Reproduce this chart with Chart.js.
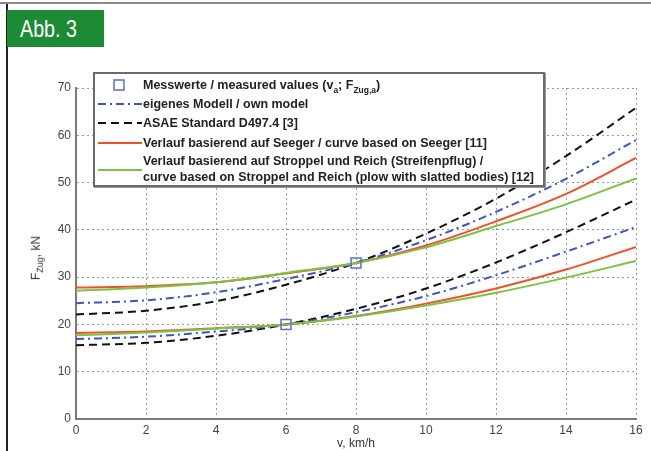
<!DOCTYPE html>
<html>
<head>
<meta charset="utf-8">
<script src="https://cdn.jsdelivr.net/npm/chart.js@4.4.1/dist/chart.umd.min.js"></script>
<style>
  body { margin: 0; background: #fff; }
  #wrap { position: relative; width: 651px; height: 451px; overflow: hidden;
          font-family: 'Liberation Sans', Arial, sans-serif; }
  #chart { position: absolute; left: 0; top: 0; }
  .topline { position: absolute; left: 0; top: 2px; width: 651px; height: 2px; background: #8a8a8a; }
  .leftline { position: absolute; left: 6px; top: 4px; width: 2px; height: 447px; background: #222; }
  .badge { position: absolute; left: 7px; top: 10px; width: 97px; height: 37px; background: #1d8b33; }
  .badge span { position: absolute; left: 13px; top: 5px; color: #fff; font-size: 24px; line-height: 28px;
                transform: scaleX(0.82); transform-origin: left center; white-space: nowrap; }
  .ytitle { position: absolute; left: 37px; top: 258px; transform: translate(-50%, -50%) rotate(-90deg);
            font-size: 12px; color: #333; white-space: nowrap; }
  .ytitle sub { font-size: 9px; }
  .legend { position: absolute; left: 93px; top: 72px; width: 452px; height: 115px; box-sizing: border-box;
            border: 2px solid #6b6b6b; background: #fff; box-shadow: 1px 1px 0 #999; }
  .row { position: absolute; left: 0; width: 100%; font-weight: bold; font-size: 12.5px; color: #222;
         white-space: nowrap; }
  .row svg { position: absolute; left: 2px; }
  .row span { position: absolute; left: 48px; line-height: 15px; }
  .row sub { font-size: 8.5px; }
</style>
</head>
<body>
<div id="wrap">
  <canvas id="chart" width="651" height="451"></canvas>
  <div class="topline"></div>
  <div class="leftline"></div>
  <div class="badge"><span>Abb. 3</span></div>
  <div class="ytitle">F<sub>Zug</sub>, kN</div>
  <div class="legend">
    <div class="row" style="top:3px;height:16px;">
      <svg width="46" height="16"><rect x="17" y="3" width="10" height="10" fill="none" stroke="#5b6fc4" stroke-width="1.5"/></svg>
      <span style="top:1px;">Messwerte / measured values (v<sub>a</sub>; F<sub>Zug,a</sub>)</span>
    </div>
    <div class="row" style="top:22px;height:16px;">
      <svg width="46" height="16"><line x1="1" y1="8" x2="45" y2="8" stroke="#3d56b8" stroke-width="2" stroke-dasharray="8 4 2 4"/></svg>
      <span style="top:1px;">eigenes Modell / own model</span>
    </div>
    <div class="row" style="top:41px;height:16px;">
      <svg width="46" height="16"><line x1="1" y1="8" x2="45" y2="8" stroke="#111" stroke-width="2" stroke-dasharray="8 5"/></svg>
      <span style="top:1px;">ASAE Standard D497.4 [3]</span>
    </div>
    <div class="row" style="top:61px;height:16px;">
      <svg width="46" height="16"><line x1="1" y1="8" x2="45" y2="8" stroke="#f0502c" stroke-width="2"/></svg>
      <span style="top:1px;">Verlauf basierend auf Seeger / curve based on Seeger [11]</span>
    </div>
    <div class="row" style="top:80px;height:32px;">
      <svg width="46" height="32"><line x1="1" y1="16" x2="45" y2="16" stroke="#7cc243" stroke-width="2"/></svg>
      <span style="top:0px;">Verlauf basierend auf Stroppel und Reich (Streifenpflug) /</span>
      <span style="top:16px;">curve based on Stroppel and Reich (plow with slatted bodies) [12]</span>
    </div>
  </div>
</div>
<script>
// Geschwindigkeit v in km/h
const speeds = [0, 2, 4, 6, 8, 10, 12, 14, 16];

// Messwerte
const measSpeed = [6, 8];
const measForce = [20, 33];

// eigenes Modell (unten / oben)
const modelLow  = [16.9, 17.4, 18.5, 20.0, 22.6, 26.0, 30.4, 35.4, 40.6];
const modelHigh = [24.5, 25.1, 26.8, 29.6, 33.0, 37.8, 43.8, 50.8, 59.0];

// ASAE Standard D497.4
const asaeLow  = [15.6, 16.1, 17.6, 20.0, 23.3, 27.6, 33.1, 39.5, 46.4];
const asaeHigh = [22.1, 22.9, 24.9, 28.4, 33.0, 39.2, 46.6, 55.6, 65.8];

// Seeger
const seegerLow  = [18.2, 18.5, 19.2, 20.0, 21.8, 24.4, 27.6, 31.6, 36.4];
const seegerHigh = [27.8, 28.1, 28.9, 30.8, 33.0, 36.7, 41.8, 47.6, 55.2];

// Stroppel und Reich
const stroppelLow  = [17.7, 18.3, 19.1, 20.0, 21.7, 24.0, 26.7, 29.9, 33.4];
const stroppelHigh = [27.1, 27.8, 28.9, 30.9, 33.0, 36.3, 40.8, 45.4, 50.9];

const xTicks = [0, 2, 4, 6, 8, 10, 12, 14, 16];
const yTicks = [0, 10, 20, 30, 40, 50, 60, 70];

const pts = (ys) => speeds.map((v, i) => ({ x: v, y: ys[i] }));

const kurve = (daten, farbe, dash) => ({
  data: pts(daten),
  borderColor: farbe,
  borderWidth: 2,
  borderDash: dash,
  pointRadius: 0,
  fill: false,
  cubicInterpolationMode: 'monotone'
});

const BLAU = '#3d56b8', SCHWARZ = '#111', ROT = '#f0502c', GRUEN = '#7cc243';

new Chart(document.getElementById('chart'), {
  type: 'line',
  data: {
    datasets: [
      {
        data: measSpeed.map((v, i) => ({ x: v, y: measForce[i] })),
        showLine: false,
        pointStyle: 'rect',
        pointRadius: 7,
        borderColor: '#5b6fc4',
        backgroundColor: 'rgba(0,0,0,0)',
        borderWidth: 1.5
      },
      kurve(stroppelHigh, GRUEN, []),
      kurve(stroppelLow, GRUEN, []),
      kurve(seegerHigh, ROT, []),
      kurve(seegerLow, ROT, []),
      kurve(modelHigh, BLAU, [8, 4, 2, 4]),
      kurve(modelLow, BLAU, [8, 4, 2, 4]),
      kurve(asaeHigh, SCHWARZ, [8, 5]),
      kurve(asaeLow, SCHWARZ, [8, 5])
    ]
  },
  options: {
    responsive: false,
    animation: false,
    devicePixelRatio: 1,
    layout: { padding: { top: 88, right: 15, left: 0, bottom: 0 } },
    plugins: { legend: { display: false }, tooltip: { enabled: false } },
    scales: {
      x: {
        type: 'linear',
        min: 0, max: 16,
        afterBuildTicks: (s) => { s.ticks = xTicks.map(v => ({ value: v })); },
        afterFit: (s) => { s.height = 32; },
        ticks: { padding: 4, color: '#444', font: { size: 12, family: "'Liberation Sans', Arial" } },
        grid: { color: '#9a9a9a', lineWidth: 1, drawTicks: false },
        border: { display: true, color: '#7a7a7a', width: 2, dash: [2, 3] },
        title: { display: true, text: 'v, km/h', color: '#333', padding: { top: 0, bottom: 0 },
                 font: { size: 12, family: "'Liberation Sans', Arial" } }
      },
      y: {
        min: 0, max: 70,
        afterBuildTicks: (s) => { s.ticks = yTicks.map(v => ({ value: v })); },
        afterFit: (s) => { s.width = 76; },
        ticks: { padding: 5, color: '#444', font: { size: 12, family: "'Liberation Sans', Arial" } },
        grid: { color: '#9a9a9a', lineWidth: 1, drawTicks: false },
        border: { display: true, color: '#7a7a7a', width: 2, dash: [2, 3] }
      }
    }
  }
});
</script>
</body>
</html>
